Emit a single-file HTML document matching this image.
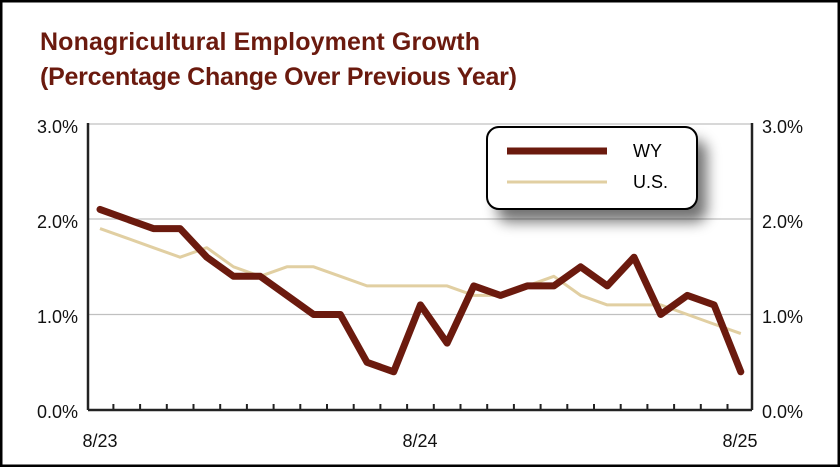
<!DOCTYPE html>
<html><head><style>
body{margin:0;background:#fff}
svg text{font-family:"Liberation Sans",sans-serif}
</style></head><body>
<svg width="840" height="467" xmlns="http://www.w3.org/2000/svg">
<rect x="1" y="1" width="838" height="465" fill="#fff" stroke="#000" stroke-width="3"/>
<text x="40" y="50" font-size="25" font-weight="bold" fill="#6b1a0e" textLength="440">Nonagricultural Employment Growth</text>
<text x="40" y="85" font-size="25" font-weight="bold" fill="#6b1a0e" textLength="477">(Percentage Change Over Previous Year)</text>
<g stroke="#c0c0c0" stroke-width="1.2">
<line x1="88" y1="124" x2="752" y2="124"/>
<line x1="88" y1="219" x2="752" y2="219"/>
<line x1="88" y1="314.5" x2="752" y2="314.5"/>
</g>
<g stroke="#222" stroke-width="2.5" fill="none">
<line x1="88" y1="123" x2="88" y2="410"/>
<line x1="752" y1="123" x2="752" y2="410"/>
<line x1="88" y1="410" x2="752" y2="410"/>
</g>
<g stroke="#222" stroke-width="2" id="ticks"></g>
<g font-size="18" fill="#111">
<text x="78" y="133" text-anchor="end">3.0%</text>
<text x="78" y="228" text-anchor="end">2.0%</text>
<text x="78" y="323" text-anchor="end">1.0%</text>
<text x="78" y="418" text-anchor="end">0.0%</text>
<text x="762" y="133">3.0%</text>
<text x="762" y="228">2.0%</text>
<text x="762" y="323">1.0%</text>
<text x="762" y="418">0.0%</text>
<text x="100" y="447" text-anchor="middle">8/23</text>
<text x="420" y="447" text-anchor="middle">8/24</text>
<text x="740" y="447" text-anchor="middle">8/25</text>
</g>
<polyline id="us" fill="none" stroke="#e1cfa2" stroke-width="3" stroke-linejoin="round"/>
<polyline id="wy" fill="none" stroke="#6b1a0e" stroke-width="7" stroke-linejoin="round" stroke-linecap="round"/>
<defs><filter id="sh" x="-20%" y="-20%" width="150%" height="160%"><feGaussianBlur stdDeviation="7"/></filter></defs>
<rect x="497" y="140" width="210" height="82" rx="12" fill="#000" opacity="0.55" filter="url(#sh)"/>
<rect x="487" y="127" width="210" height="82" rx="12" fill="#fff" stroke="#000" stroke-width="2"/>
<line x1="507" y1="151" x2="607" y2="151" stroke="#6b1a0e" stroke-width="7"/>
<line x1="507" y1="182" x2="607" y2="182" stroke="#e1cfa2" stroke-width="3"/>
<text x="633" y="157" font-size="18">WY</text>
<text x="633" y="188" font-size="18">U.S.</text>
</svg>
<script>
var wy=[2.1,2.0,1.9,1.9,1.6,1.4,1.4,1.2,1.0,1.0,0.5,0.4,1.1,0.7,1.3,1.2,1.3,1.3,1.5,1.3,1.6,1.0,1.2,1.1,0.4];
var us=[1.9,1.8,1.7,1.6,1.7,1.5,1.4,1.5,1.5,1.4,1.3,1.3,1.3,1.3,1.2,1.2,1.3,1.4,1.2,1.1,1.1,1.1,1.0,0.9,0.8];
function pts(a){return a.map(function(v,i){return (100+i*26.7).toFixed(1)+","+(410-v*95.5).toFixed(1)}).join(" ")}
document.getElementById("wy").setAttribute("points",pts(wy));
document.getElementById("us").setAttribute("points",pts(us));
var t="";for(var i=0;i<24;i++){var x=113.4+i*26.7;t+='<line x1="'+x+'" y1="404" x2="'+x+'" y2="410"/>';}
document.getElementById("ticks").innerHTML=t;
</script>
</body></html>
